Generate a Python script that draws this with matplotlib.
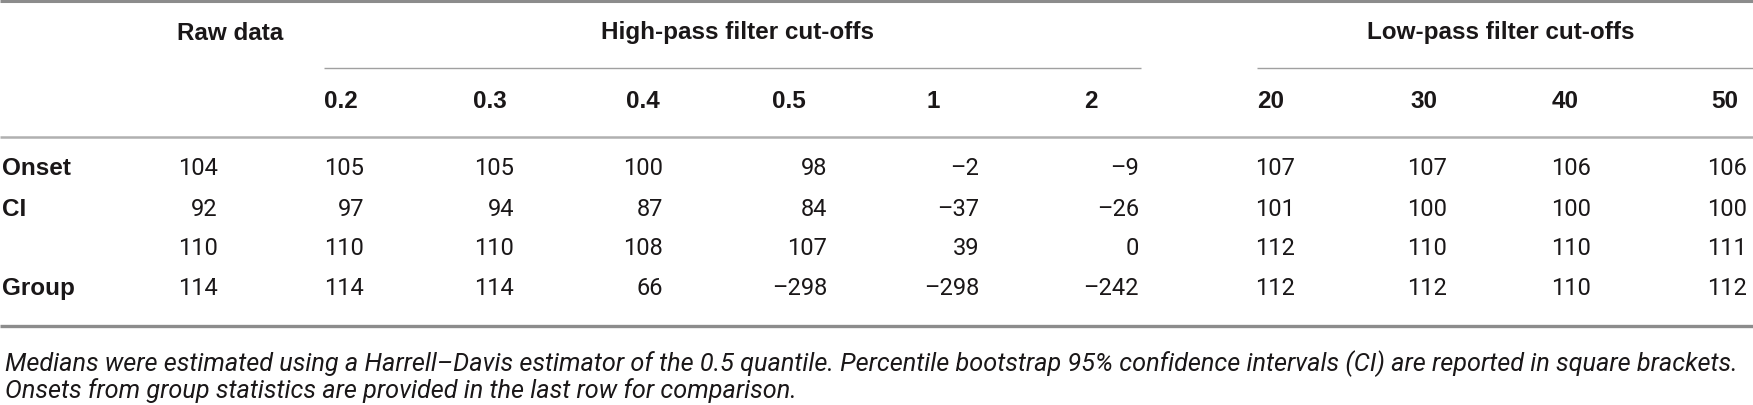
import matplotlib
matplotlib.use("Agg")
from matplotlib import pyplot as plt

# table content
row_labels = ["Onset", "CI", "", "Group"]
group_labels = ["Raw data", "High-pass filter cut-offs", "Low-pass filter cut-offs"]
col_labels = ["", "0.2", "0.3", "0.4", "0.5", "1", "2", "20", "30", "40", "50"]
raw_data = [104, 92, 110, 114]
hp_02 = [105, 97, 110, 114]
hp_03 = [105, 94, 110, 114]
hp_04 = [100, 87, 108, 66]
hp_05 = [98, 84, 107, -298]
hp_1 = [-2, -37, 39, -298]
hp_2 = [-9, -26, 0, -242]
lp_20 = [107, 101, 112, 112]
lp_30 = [107, 100, 110, 112]
lp_40 = [106, 100, 110, 110]
lp_50 = [106, 100, 111, 112]
columns = [raw_data, hp_02, hp_03, hp_04, hp_05, hp_1, hp_2, lp_20, lp_30, lp_40, lp_50]
caption = ["Medians were estimated using a Harrell\u2013Davis estimator of the 0.5 quantile. "
           "Percentile bootstrap 95% confidence intervals (CI) are reported in square brackets.",
           "Onsets from group statistics are provided in the last row for comparison."]

# layout (pixel space)
W, H = 1753, 406
col_right = [218, 364, 514, 663, 827, 979, 1139, 1295, 1447, 1591, 1747]
col_left = [177, 324, 473, 626, 772, 927, 1084, 1257, 1410, 1552, 1711]
row_y = [169, 210, 249, 289]
TXT = "#1a1718"
NUMFONT = ["Roboto", "DejaVu Sans"]
BOLDFONT = ["Liberation Sans", "DejaVu Sans"]


def fmt(v):
    return str(v).replace("-", "\u2013")


fig = plt.figure(figsize=(W / 100, H / 100), dpi=100)
ax = fig.add_axes([0, 0, 1, 1])
ax.set_xlim(0, W)
ax.set_ylim(H, 0)
ax.axis("off")

# rules
ax.plot([0, W], [1.5, 1.5], color="#8c8c8c", lw=2.2, solid_capstyle="butt")
ax.plot([324, 1141], [69, 69], color="#a0a0a0", lw=1.0, solid_capstyle="butt")
ax.plot([1257, W], [69, 69], color="#a0a0a0", lw=1.0, solid_capstyle="butt")
ax.plot([0, W], [138, 138], color="#b0b0b0", lw=1.8, solid_capstyle="butt")
ax.plot([0, W], [327, 327], color="#8c8c8c", lw=2.4, solid_capstyle="butt")

hfs = 17.5
ax.text(col_left[0], 33, group_labels[0], ha="left", va="center", fontsize=hfs,
        fontweight="bold", family=BOLDFONT, color=TXT)
ax.text((324 + 1141) / 2 + 5, 33, group_labels[1], ha="center", va="center", fontsize=hfs,
        fontweight="bold", family=BOLDFONT, color=TXT)
ax.text((1257 + W) / 2 - 4, 33, group_labels[2], ha="center", va="center", fontsize=hfs,
        fontweight="bold", family=BOLDFONT, color=TXT)

for x, lab in zip(col_left, col_labels):
    ax.text(x, 101, lab, ha="left", va="center", fontsize=hfs, fontweight="bold",
            family=BOLDFONT, color=TXT)

for y, lab in zip(row_y, row_labels):
    ax.text(2, y, lab, ha="left", va="center", fontsize=hfs, fontweight="bold",
            family=BOLDFONT, color=TXT)

for x, vals in zip(col_right, columns):
    for y, v in zip(row_y, vals):
        ax.text(x, y, fmt(v), ha="right", va="center", fontsize=17, fontweight="normal",
                family=NUMFONT, color=TXT)

# caption, fitted to the width of the table
renderer = fig.canvas.get_renderer()
cfs = 13
c1 = ax.text(5, 364, caption[0], ha="left", va="center", fontsize=cfs, style="italic",
             fontweight="normal", family=NUMFONT, color=TXT)
c2 = ax.text(5, 391, caption[1], ha="left", va="center", fontsize=cfs, style="italic",
             fontweight="normal", family=NUMFONT, color=TXT)
w = c1.get_window_extent(renderer).width
cfs = cfs * 1728 / w
c1.set_fontsize(cfs)
c2.set_fontsize(cfs)

fig.savefig("out.png", dpi=100)
